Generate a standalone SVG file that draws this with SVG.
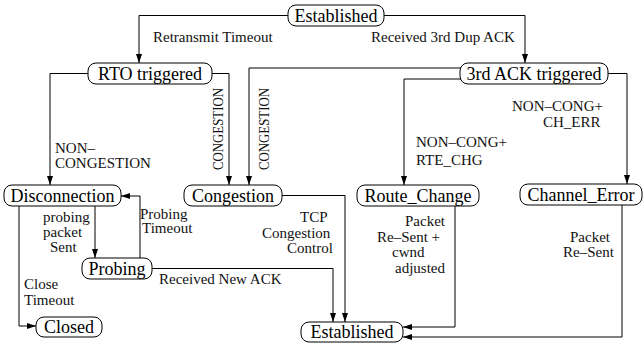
<svg xmlns="http://www.w3.org/2000/svg" width="644" height="343" viewBox="0 0 644 343">
<style>
.node rect{fill:#fff;stroke:#000;stroke-width:1}
.node text{font-size:18px;fill:#000;text-anchor:middle}
.edges path{fill:none;stroke:#000;stroke-width:1}
.lbl{font-size:15px;fill:#111}
</style>
<defs>
<marker id="arr" markerUnits="userSpaceOnUse" markerWidth="10" markerHeight="7" refX="9" refY="3" orient="auto">
<path d="M0,0 L9,3 L0,6 z" fill="#000"/>
</marker>
</defs>
<rect width="644" height="343" fill="#fff"/>
<g class="edges">
<path d="M288,15.5 H139 V63" marker-end="url(#arr)"/>
<path d="M384,15.5 H525 V63" marker-end="url(#arr)"/>
<path d="M88,73.5 H50 V185" marker-end="url(#arr)"/>
<path d="M212,73.5 H229 V185" marker-end="url(#arr)"/>
<path d="M462,68 H249 V185" marker-end="url(#arr)"/>
<path d="M462,79 H404 V185" marker-end="url(#arr)"/>
<path d="M608,73.5 H627 V184" marker-end="url(#arr)"/>
<path d="M19,206 V326 H36" marker-end="url(#arr)"/>
<path d="M95,206 V258" marker-end="url(#arr)"/>
<path d="M140,258 V196 H121" marker-end="url(#arr)"/>
<path d="M152,268.5 H333 V322" marker-end="url(#arr)"/>
<path d="M282,195.5 H345 V322" marker-end="url(#arr)"/>
<path d="M455,206 V327 H403" marker-end="url(#arr)"/>
<path d="M622,205 V337 H403" marker-end="url(#arr)"/>
</g>
<g id="labels" font-family="'Liberation Serif', 'Times New Roman', Times, serif">
<text class="lbl" x="153" y="42">Retransmit Timeout</text>
<text class="lbl" x="371" y="42">Received 3rd Dup ACK</text>
<text class="lbl" x="55" y="152.5">NON–</text>
<text class="lbl" x="55" y="168">CONGESTION</text>
<text class="lbl" transform="translate(223,129) rotate(-90)" text-anchor="middle" textLength="82" lengthAdjust="spacingAndGlyphs">CONGESTION</text>
<text class="lbl" transform="translate(269,129) rotate(-90)" text-anchor="middle" textLength="82" lengthAdjust="spacingAndGlyphs">CONGESTION</text>
<text class="lbl" x="416" y="147">NON–CONG+</text>
<text class="lbl" x="416" y="165">RTE_CHG</text>
<text class="lbl" x="512" y="111">NON–CONG+</text>
<text class="lbl" x="543" y="127">CH_ERR</text>
<text class="lbl" x="43" y="222">probing</text>
<text class="lbl" x="43" y="237">packet</text>
<text class="lbl" x="50" y="252">Sent</text>
<text class="lbl" x="140" y="218.5">Probing</text>
<text class="lbl" x="142" y="232.5">Timeout</text>
<text class="lbl" x="24" y="289">Close</text>
<text class="lbl" x="24" y="305">Timeout</text>
<text class="lbl" x="159" y="284">Received New ACK</text>
<text class="lbl" x="300" y="222">TCP</text>
<text class="lbl" x="262" y="237.5">Congestion</text>
<text class="lbl" x="287" y="253">Control</text>
<text class="lbl" x="405" y="226">Packet</text>
<text class="lbl" x="377" y="241.5">Re–Sent +</text>
<text class="lbl" x="392" y="257">cwnd</text>
<text class="lbl" x="395" y="272.5">adjusted</text>
<text class="lbl" x="570" y="242">Packet</text>
<text class="lbl" x="563" y="257">Re–Sent</text>
</g>
<g id="nodes" font-family="'Liberation Serif', 'Times New Roman', Times, serif">
<g id="established_top" class="node"><rect x="288" y="5" width="96" height="21" rx="8"/><text x="336" y="21.5">Established</text></g>
<g id="rto_triggered" class="node"><rect x="88" y="63" width="124" height="21" rx="8"/><text x="150" y="79.5">RTO triggered</text></g>
<g id="ack3_triggered" class="node"><rect x="460" y="63" width="148" height="21" rx="8"/><text x="534" y="79.5">3rd ACK triggered</text></g>
<g id="disconnection" class="node"><rect x="4" y="185" width="117" height="21" rx="8"/><text x="62.5" y="201.5">Disconnection</text></g>
<g id="congestion" class="node"><rect x="184" y="185" width="98" height="21" rx="8"/><text x="233" y="201.5">Congestion</text></g>
<g id="route_change" class="node"><rect x="357" y="185" width="122" height="21" rx="8"/><text x="418" y="201.5">Route_Change</text></g>
<g id="channel_error" class="node"><rect x="520" y="184" width="122" height="21" rx="8"/><text x="581" y="200.5">Channel_Error</text></g>
<g id="probing" class="node"><rect x="82" y="258" width="70" height="21" rx="8"/><text x="117" y="274.5">Probing</text></g>
<g id="closed" class="node"><rect x="36" y="317" width="66" height="20" rx="8"/><text x="69" y="333">Closed</text></g>
<g id="established_bottom" class="node"><rect x="301" y="322" width="102" height="20" rx="8"/><text x="352" y="338">Established</text></g>
</g>
</svg>
